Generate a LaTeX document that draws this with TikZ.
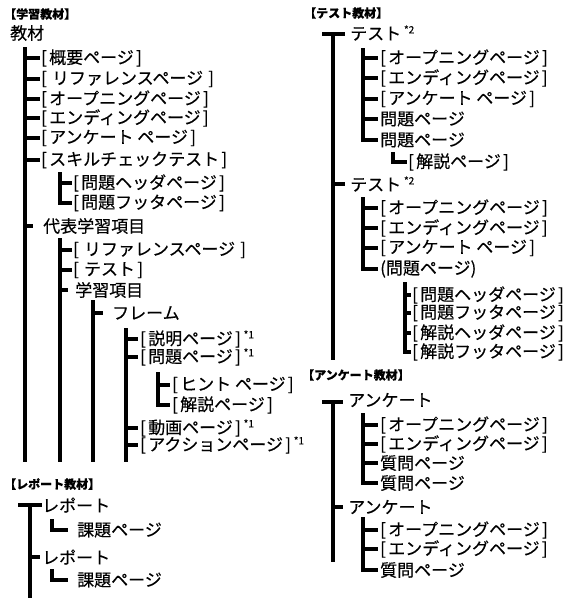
\documentclass[tikz,border=0pt]{standalone}
\usepackage{fontspec}
\newfontfamily\jp{Noto Sans CJK JP}[FakeBold=0.35]
\newcommand\supmark[1]{\,\raisebox{0.38em}{\fontsize{10}{10}\selectfont #1}}
\newcommand\lb{\makebox[0.47em][l]{[}}
\newcommand\rb{\makebox[0.47em][r]{]}}
\newcommand\tk[3]{\draw[bar] (#1 |- #2.west) -- ++(#3,0);}
\newcommand\lk[3]{\draw[bar] (#1) -- (#1 |- #2.west) -- ++(#3,0);}
\begin{document}
\begin{tikzpicture}[x=1pt,y=-1pt,
  every node/.style={inner sep=0pt, anchor=west, font=\jp\fontsize{17}{17}\selectfont},
  hdr/.style={font=\jp\bfseries\fontsize{12}{12}\selectfont},
  bar/.style={line width=3.2pt, line join=miter}]
\useasboundingbox (0,0) rectangle (567,600);
% ---------- 学習教材 ----------
\node[hdr] (H1) at (4,14) {【学習教材】};
\node (root) at (10,33) {教材};
\coordinate (A) at (25,47); \coordinate (Ab) at (25,462);
\node (a1) at (41,58) {\lb 概要ページ\rb};
\node (a2) at (41,79) {\lb\,リファレンスページ\,\rb};
\node (a3) at (41,99) {\lb オープニングページ\rb};
\node (a4) at (41,118) {\lb エンディングページ\rb};
\node (a5) at (41,138) {\lb アンケート ページ\rb};
\node (a6) at (41,160) {\lb スキルチェックテスト\rb};
\node (b1) at (73,183) {\lb 問題ヘッダページ\rb};
\node (b2) at (73,203) {\lb 問題フッタページ\rb};
\node (a7) at (43,226) {代表学習項目};
\node (c1) at (73,250) {\lb\,リファレンスページ\,\rb};
\node (c2) at (73,270) {\lb\,テスト\rb};
\node (c3) at (75,290) {学習項目};
\node (d1) at (112,313) {フレーム};
\node (e1) at (140,339) {\lb 説明ページ\rb\supmark{*1}};
\node (e2) at (140,357) {\lb 問題ページ\rb\supmark{*1}};
\node (f1) at (172,385) {\lb ヒント ページ\rb};
\node (f2) at (172,405) {\lb 解説ページ\rb};
\node (e3) at (140,428) {\lb 動画ページ\rb\supmark{*1}};
\node (e4) at (140,445) {\lb アクションページ\rb\supmark{*1}};
\draw[bar] (A) -- (Ab);
\tk{A}{a1}{15}\tk{A}{a2}{15}\tk{A}{a3}{15}\tk{A}{a4}{15}\tk{A}{a5}{15}\tk{A}{a6}{15}\tk{A}{a7}{8}
\coordinate (B) at (60,172);
\tk{B}{b1}{12}\lk{B}{b2}{12}
\coordinate (C) at (60,238); \coordinate (Cb) at (60,462);
\draw[bar] (C) -- (Cb);
\tk{C}{c1}{12}\tk{C}{c2}{12}\tk{C}{c3}{8}
\coordinate (D) at (93,300); \coordinate (Db) at (93,462);
\draw[bar] (D) -- (Db);
\tk{D}{d1}{10}
\coordinate (E) at (126,328); \coordinate (Eb) at (126,462);
\draw[bar] (E) -- (Eb);
\tk{E}{e1}{12}\tk{E}{e2}{12}\tk{E}{e3}{12}\tk{E}{e4}{12}
\coordinate (F) at (158,372);
\tk{F}{f1}{12}\lk{F}{f2}{12}
% ---------- レポート教材 ----------
\node[hdr] (H3) at (4,484) {【レポート教材】};
\node (r1) at (42,505) {レポート};
\node (r2) at (77,530) {課題ページ};
\node (r3) at (42,557) {レポート};
\node (r4) at (77,580) {課題ページ};
\coordinate (R) at (30,505); \coordinate (Rb) at (30,598);
\draw[bar] (18,505) -- (r1.west);
\draw[bar] (R) -- (Rb);
\tk{R}{r3}{10}
\coordinate (S1) at (52,519); \lk{S1}{r2}{16}
\coordinate (S2) at (52,569); \lk{S2}{r4}{16}
% ---------- テスト教材 ----------
\node[hdr] (H2) at (304,13) {【テスト教材】};
\node (t1) at (350,33) {テスト\supmark{*2}};
\coordinate (T) at (333,34); \coordinate (Tb) at (333,360);
\draw[bar] (322,34) -- (345,34);
\draw[bar] (T) -- (Tb);
\node (g1) at (380,58) {\lb オープニングページ\rb};
\node (g2) at (380,78) {\lb エンディングページ\rb};
\node (g3) at (380,99) {\lb アンケート ページ\rb};
\node (g4) at (380,119) {問題ページ};
\node (g5) at (380,140) {問題ページ};
\node (h1) at (408,162) {\lb 解説ページ\rb};
\coordinate (G) at (363,48);
\tk{G}{g1}{15}\tk{G}{g2}{15}\tk{G}{g3}{15}\tk{G}{g4}{15}\lk{G}{g5}{15}
\coordinate (Hh) at (393,152); \lk{Hh}{h1}{14}
\node (t2) at (350,184) {テスト\supmark{*2}};
\tk{T}{t2}{12}
\node (i1) at (380,208) {\lb オープニングページ\rb};
\node (i2) at (380,228) {\lb エンディングページ\rb};
\node (i3) at (380,248) {\lb アンケート ページ\rb};
\node (i4) at (380,269) {(問題ページ)};
\coordinate (I) at (363,197);
\tk{I}{i1}{15}\tk{I}{i2}{15}\tk{I}{i3}{15}\lk{I}{i4}{15}
\node (j1) at (412,295) {\lb 問題ヘッダページ\rb};
\node (j2) at (412,313) {\lb 問題フッタページ\rb};
\node (j3) at (412,333) {\lb 解説ヘッダページ\rb};
\node (j4) at (412,352) {\lb 解説フッタページ\rb};
\coordinate (J) at (405,282);
\tk{J}{j1}{6}\tk{J}{j2}{6}\tk{J}{j3}{6}\lk{J}{j4}{6}
% ---------- アンケート教材 ----------
\node[hdr] (H4) at (302,375) {【アンケート教材】};
\node (k1) at (348,400) {アンケート};
\coordinate (K) at (333,402); \coordinate (Kb) at (333,562);
\draw[bar] (322,402) -- (343,402);
\draw[bar] (K) -- (Kb);
\node (l1) at (380,425) {\lb オープニングページ\rb};
\node (l2) at (380,444) {\lb エンディングページ\rb};
\node (l3) at (380,463) {質問ページ};
\node (l4) at (380,483) {質問ページ};
\coordinate (L) at (363,413);
\tk{L}{l1}{15}\tk{L}{l2}{15}\tk{L}{l3}{15}\lk{L}{l4}{15}
\node (k2) at (348,507) {アンケート};
\tk{K}{k2}{10}
\node (m1) at (380,530) {\lb オープニングページ\rb};
\node (m2) at (380,549) {\lb エンディングページ\rb};
\node (m3) at (380,570) {質問ページ};
\coordinate (M) at (363,517);
\tk{M}{m1}{15}\tk{M}{m2}{15}\lk{M}{m3}{15}
\end{tikzpicture}
\end{document}
